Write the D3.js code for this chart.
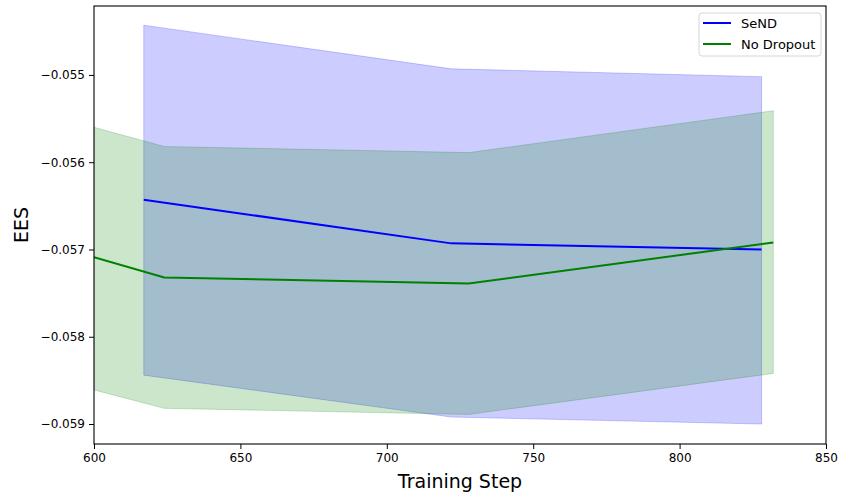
<!DOCTYPE html>
<html>
<head>
<meta charset="utf-8">
<script src="https://cdn.jsdelivr.net/npm/d3@7"></script>
<style>
  body { margin: 0; background: #fff; }
  text { font-family: "DejaVu Sans", sans-serif; }
</style>
</head>
<body>
<div id="chart"></div>
<script>
// SeND series
var sendSteps = [617, 722, 828];
var sendMean  = [-0.05643, -0.05693, -0.05700];
var sendUpper = [-0.05443, -0.05493, -0.05502];
var sendLower = [-0.05844, -0.05892, -0.05900];

// No Dropout series
var noDropSteps = [600, 624, 728, 832];
var noDropMean  = [-0.05709, -0.05732, -0.05739, -0.05692];
var noDropUpper = [-0.05560, -0.05582, -0.05589, -0.05541];
var noDropLower = [-0.05861, -0.05882, -0.05889, -0.05842];

var xTicks = [600, 650, 700, 750, 800, 850];
var yTicks = [-0.055, -0.056, -0.057, -0.058, -0.059];
var legendNames = ["SeND", "No Dropout"];

var svg = d3.select("#chart").append("svg")
  .attr("width", 843)
  .attr("height", 496);

var plotL = 94, plotR = 826, plotT = 6, plotB = 444;

var xScale = d3.scaleLinear().domain([600, 850]).range([plotL, plotR]);
var yScale = d3.scaleLinear().domain([-0.059229, -0.054210]).range([plotB, plotT]);

function toRows(steps, mean, lo, hi) {
  return steps.map(function (s, i) { return { x: s, m: mean[i], lo: lo[i], hi: hi[i] }; });
}
var send = toRows(sendSteps, sendMean, sendLower, sendUpper);
var noDrop = toRows(noDropSteps, noDropMean, noDropLower, noDropUpper);

var area = d3.area()
  .x(function (d) { return xScale(d.x); })
  .y0(function (d) { return yScale(d.lo); })
  .y1(function (d) { return yScale(d.hi); });
var line = d3.line()
  .x(function (d) { return xScale(d.x); })
  .y(function (d) { return yScale(d.m); });

svg.append("clipPath").attr("id", "clip")
  .append("rect").attr("x", plotL).attr("y", plotT).attr("width", plotR - plotL).attr("height", plotB - plotT);

var g = svg.append("g").attr("clip-path", "url(#clip)");

// bands (SeND first, then No Dropout on top)
g.append("path").datum(send).attr("d", area)
  .attr("fill", "blue").attr("fill-opacity", 0.2)
  .attr("stroke", "blue").attr("stroke-opacity", 0.2).attr("stroke-width", 1);
g.append("path").datum(noDrop).attr("d", area)
  .attr("fill", "green").attr("fill-opacity", 0.2)
  .attr("stroke", "green").attr("stroke-opacity", 0.2).attr("stroke-width", 1);

g.append("path").datum(send).attr("d", line)
  .attr("fill", "none").attr("stroke", "blue").attr("stroke-width", 2);
g.append("path").datum(noDrop).attr("d", line)
  .attr("fill", "none").attr("stroke", "green").attr("stroke-width", 2);

// axes
var xAxis = svg.append("g")
  .attr("transform", "translate(0," + plotB + ")")
  .call(d3.axisBottom(xScale).tickValues(xTicks).tickFormat(d3.format("d")).tickSize(5).tickPadding(4));
var yAxis = svg.append("g")
  .attr("transform", "translate(" + plotL + ",0)")
  .call(d3.axisLeft(yScale).tickValues(yTicks).tickFormat(d3.format(".3f")).tickSize(5).tickPadding(4));

[xAxis, yAxis].forEach(function (ax) {
  ax.select(".domain").remove();
  ax.selectAll("text").attr("font-family", "DejaVu Sans").attr("font-size", "12px").attr("fill", "#000");
  ax.selectAll("line").attr("stroke", "#000");
});

svg.append("rect")
  .attr("x", plotL).attr("y", plotT)
  .attr("width", plotR - plotL).attr("height", plotB - plotT)
  .attr("fill", "none").attr("stroke", "#000").attr("stroke-width", 1.1);

// axis titles
svg.append("text")
  .attr("x", (plotL + plotR) / 2).attr("y", 488)
  .attr("text-anchor", "middle")
  .attr("font-size", "19px")
  .text("Training Step");
svg.append("text")
  .attr("transform", "translate(28," + ((plotT + plotB) / 2) + ") rotate(-90)")
  .attr("text-anchor", "middle")
  .attr("font-size", "19px")
  .text("EES");

// legend
var legend = svg.append("g").attr("transform", "translate(699,13)");
legend.append("rect")
  .attr("width", 122).attr("height", 43).attr("rx", 3)
  .attr("fill", "#fff").attr("fill-opacity", 0.8)
  .attr("stroke", "#d6d6d6");
var legendColors = ["blue", "green"];
legendNames.forEach(function (name, i) {
  var y = 10 + i * 21;
  legend.append("line")
    .attr("x1", 4).attr("x2", 32).attr("y1", y).attr("y2", y)
    .attr("stroke", legendColors[i]).attr("stroke-width", 2);
  legend.append("text")
    .attr("x", 42).attr("y", y).attr("dy", "0.35em")
    .attr("font-size", "13px")
    .text(name);
});
</script>
</body>
</html>
